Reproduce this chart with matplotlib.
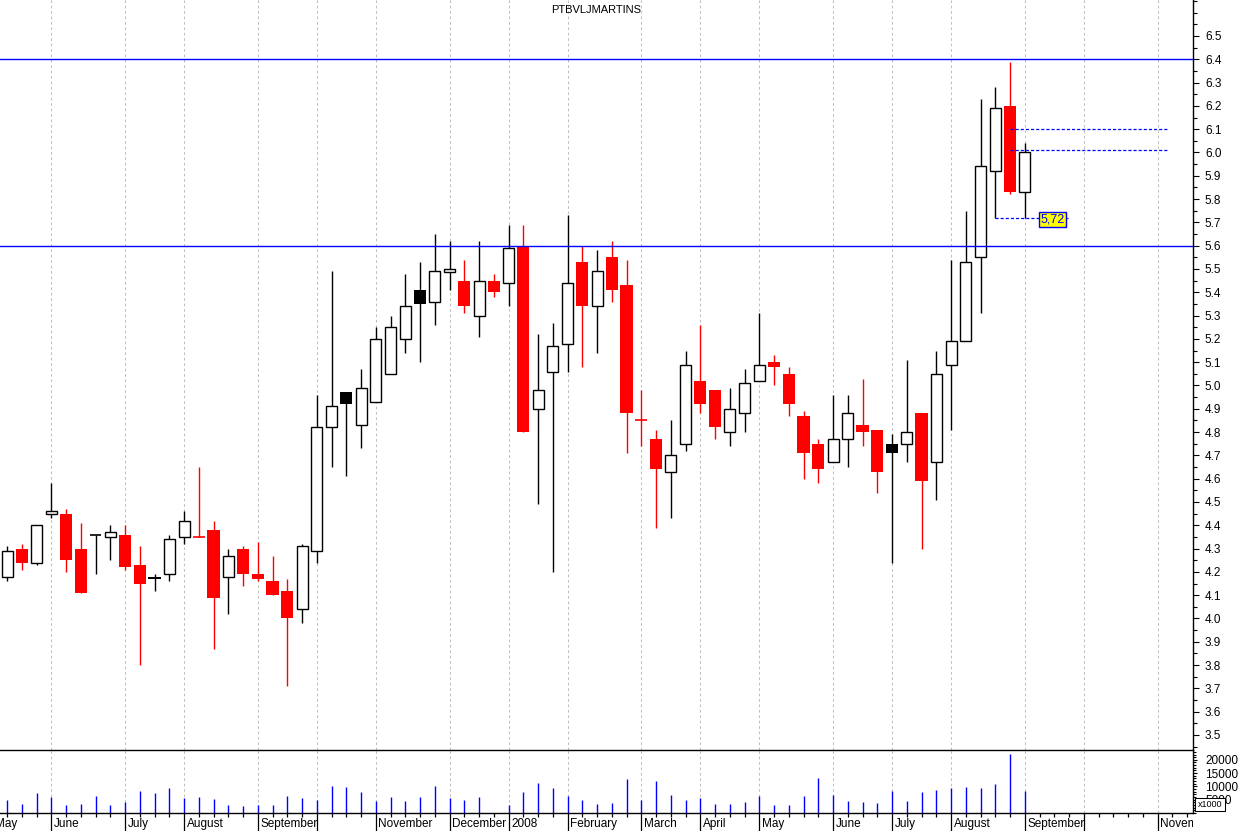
import numpy as np
import matplotlib.pyplot as plt
from matplotlib.ticker import FixedLocator, MultipleLocator, FormatStrFormatter

plt.rcParams['font.family'] = ['Liberation Sans', 'DejaVu Sans']

title = "PTBVLJMARTINS"

# weekly candles, week 0 = week ending 11 May 2007, week 69 = week ending 5 Sep 2008
opens = [4.18, 4.30, 4.24, 4.447, 4.45, 4.30, 4.36, 4.35, 4.36, 4.23,
         4.18, 4.19, 4.35, 4.35, 4.38, 4.18, 4.30, 4.19, 4.16, 4.12,
         4.04, 4.29, 4.82, 4.97, 4.83, 4.93, 5.05, 5.20, 5.41, 5.36,
         5.487, 5.45, 5.30, 5.45, 5.44, 5.60, 4.90, 5.06, 5.18, 5.53,
         5.34, 5.55, 5.43, 4.85, 4.77, 4.63, 4.75, 5.02, 4.98, 4.80,
         4.88, 5.02, 5.10, 5.05, 4.87, 4.75, 4.67, 4.77, 4.83, 4.81,
         4.75, 4.75, 4.88, 4.67, 5.09, 5.19, 5.55, 5.92, 6.20, 5.83]
highs = [4.31, 4.32, 4.40, 4.58, 4.47, 4.41, 4.36, 4.40, 4.40, 4.31,
         4.19, 4.36, 4.46, 4.65, 4.42, 4.30, 4.31, 4.33, 4.27, 4.17,
         4.32, 4.96, 5.49, 4.97, 5.07, 5.25, 5.30, 5.48, 5.53, 5.65,
         5.62, 5.54, 5.62, 5.48, 5.69, 5.69, 5.22, 5.27, 5.73, 5.60,
         5.58, 5.62, 5.54, 4.98, 4.81, 4.85, 5.15, 5.26, 4.98, 4.99,
         5.07, 5.31, 5.13, 5.08, 4.89, 4.77, 4.96, 4.96, 5.03, 4.81,
         4.79, 5.11, 4.88, 5.15, 5.54, 5.75, 6.23, 6.28, 6.39, 6.04]
lows = [4.16, 4.21, 4.23, 4.433, 4.20, 4.11, 4.19, 4.25, 4.21, 3.80,
        4.12, 4.16, 4.32, 4.35, 3.87, 4.02, 4.14, 4.16, 4.10, 3.71,
        3.98, 4.24, 4.65, 4.61, 4.73, 4.93, 5.05, 5.14, 5.10, 5.26,
        5.41, 5.31, 5.21, 5.38, 5.34, 4.80, 4.49, 4.20, 5.06, 5.08,
        5.14, 5.36, 4.71, 4.74, 4.39, 4.43, 4.72, 4.88, 4.77, 4.74,
        4.80, 5.02, 5.00, 4.87, 4.60, 4.58, 4.67, 4.65, 4.74, 4.54,
        4.24, 4.67, 4.30, 4.51, 4.81, 5.19, 5.31, 5.72, 5.82, 5.72]
closes = [4.29, 4.24, 4.40, 4.46, 4.25, 4.11, 4.36, 4.37, 4.22, 4.15,
          4.17, 4.34, 4.42, 4.35, 4.09, 4.27, 4.19, 4.17, 4.10, 4.00,
          4.31, 4.82, 4.91, 4.92, 4.99, 5.20, 5.25, 5.34, 5.35, 5.49,
          5.50, 5.34, 5.45, 5.40, 5.59, 4.80, 4.98, 5.17, 5.44, 5.34,
          5.49, 5.41, 4.88, 4.85, 4.64, 4.70, 5.09, 4.92, 4.82, 4.90,
          5.01, 5.09, 5.08, 4.92, 4.71, 4.64, 4.77, 4.88, 4.80, 4.63,
          4.71, 4.80, 4.59, 5.05, 5.19, 5.53, 5.94, 6.19, 5.83, 6.00]
volumes = [4780, 3270, 7520, 5900, 2900, 3270, 6280, 2900, 4020, 8160,
           7410, 9290, 5530, 5900, 5150, 2900, 2520, 2900, 2900, 6280,
           5530, 4780, 10040, 9660, 7780, 4400, 5900, 4400, 6090, 10150,
           5640, 4890, 6090, 0, 3080, 7900, 11350, 9480, 6470, 4890,
           3380, 3650, 12670, 4780, 11920, 6660, 4780, 5530, 3270, 3270,
           4020, 6280, 2900, 2900, 6280, 13050, 6660, 4400, 4020, 3650,
           8160, 4400, 7780, 8540, 9290, 9660, 9290, 10790, 22070, 8160]

month_weeks = [-1, 3, 8, 12, 17, 21, 25, 30, 34, 38, 43, 47, 51, 56, 60, 64, 69, 73, 78]
month_labels = ["May", "June", "July", "August", "September", "", "November", "December",
                "2008", "February", "March", "April", "May", "June", "July", "August",
                "September", "", "November"]

support_lines = [6.40, 5.60]
level_lines = [6.10, 6.01]

W, H = 1242, 831
fig = plt.figure(figsize=(W / 100, H / 100), dpi=100)
ax = fig.add_axes([0, (H - 750) / H, 1193 / W, 750 / H])
axv = fig.add_axes([0, (H - 813) / H, 1193 / W, 63 / H], sharex=ax)
axl = fig.add_axes([0, 0, 1193 / W, (H - 813) / H], sharex=ax)

weeks = np.arange(len(opens))
o = np.array(opens); h = np.array(highs); l = np.array(lows); c = np.array(closes)
prev = np.concatenate([[c[0]], c[:-1]])
col = np.where(c < prev, 'red', 'black')
col[0] = 'black'

# month grid
for a in (ax, axv):
    for w in month_weeks:
        a.axvline(w, color='#c0c0c0', lw=0.75, ls=(0, (2.6, 2.6)), zorder=1)

# wicks
ax.vlines(weeks, l, h, colors=col, lw=1.0, zorder=2)

up = c > o
down = c < o
doji = c == o
ax.bar(weeks[up], (c - o)[up], bottom=o[up], width=0.75, facecolor='white',
       edgecolor='black', lw=1.0, zorder=3)
ax.bar(weeks[down], (o - c)[down], bottom=c[down], width=0.83, color=col[down],
       lw=0, zorder=3)
ax.hlines(c[doji], weeks[doji] - 0.4, weeks[doji] + 0.4, colors=col[doji], lw=1.2, zorder=3)

# support / resistance lines
for v in support_lines:
    ax.axhline(v, color='#0000ff', lw=1.0, zorder=4)
for v in level_lines:
    ax.hlines(v, 68, 78.7, colors='#0000ff', lw=0.9, ls=(0, (2.5, 1.6)), zorder=4)
ax.hlines(lows[-1], 67, 71.9, colors='#0000ff', lw=0.9, ls=(0, (2.5, 1.6)), zorder=4)
ax.text(70.9, lows[-1] - 0.008, f"{lows[-1]:.2f}".replace('.', ','), ha='center', va='center',
        color='#0000ff', fontsize=9,
        bbox=dict(boxstyle='square,pad=0.12', fc='yellow', ec='#0000ff', lw=1.0), zorder=6)

ax.text(0.5, 0.9867, title, transform=ax.transAxes, ha='center', va='center', fontsize=8)

ax.set_xlim(-0.48, 80.4)
ax.set_ylim(3.4356, 6.6545)
for s in ('left', 'top', 'bottom'):
    ax.spines[s].set_visible(False)
ax.spines['right'].set_linewidth(1.0)
ax.tick_params(axis='x', bottom=False, labelbottom=False)
ax.yaxis.tick_right()
ax.yaxis.set_major_locator(FixedLocator(np.round(np.arange(3.5, 6.51, 0.1), 1)))
ax.yaxis.set_major_formatter(FormatStrFormatter('%.1f'))
ax.yaxis.set_minor_locator(MultipleLocator(0.05))
ax.tick_params(axis='y', which='major', length=4.3, width=0.8, pad=4.3, labelsize=8.5)
ax.tick_params(axis='y', which='minor', length=2.9, width=0.8)

# volume panel
vol = np.array(volumes)
axv.vlines(weeks[vol > 0], 0, vol[vol > 0], colors='#0000ff', lw=1.0, zorder=2)
axv.set_ylim(0, 23700)
axv.spines['left'].set_visible(False)
for s in ('top', 'bottom', 'right'):
    axv.spines[s].set_linewidth(1.0)
    axv.spines[s].set_color('black')
axv.yaxis.tick_right()
axv.yaxis.set_major_locator(FixedLocator([5000, 10000, 15000, 20000]))
axv.yaxis.set_major_formatter(FormatStrFormatter('%d'))
axv.yaxis.set_minor_locator(MultipleLocator(1000))
axv.tick_params(axis='y', which='major', length=3, width=0.8, pad=5.8, labelsize=8.5)
axv.tick_params(axis='y', which='minor', length=1.8, width=0.8)
axv.xaxis.set_major_locator(FixedLocator(month_weeks))
axv.xaxis.set_minor_locator(FixedLocator(np.arange(0, 81)))
axv.tick_params(axis='x', which='major', length=13, width=0.9, labelbottom=False)
axv.tick_params(axis='x', which='minor', length=3.1, width=0.9)

fig.text(1210 / W, (H - 804.5) / H, 'x1000', fontsize=6.5, ha='center', va='center',
         bbox=dict(boxstyle='square,pad=0.25', fc='white', ec='black', lw=0.75))

# month labels
axl.axis('off')
for w, lab in zip(month_weeks, month_labels):
    axl.text(w + 0.17, 0.4, lab, transform=axl.get_xaxis_transform(), ha='left',
             va='center', fontsize=8.5, clip_on=True)

fig.savefig('out.png', dpi=100)
